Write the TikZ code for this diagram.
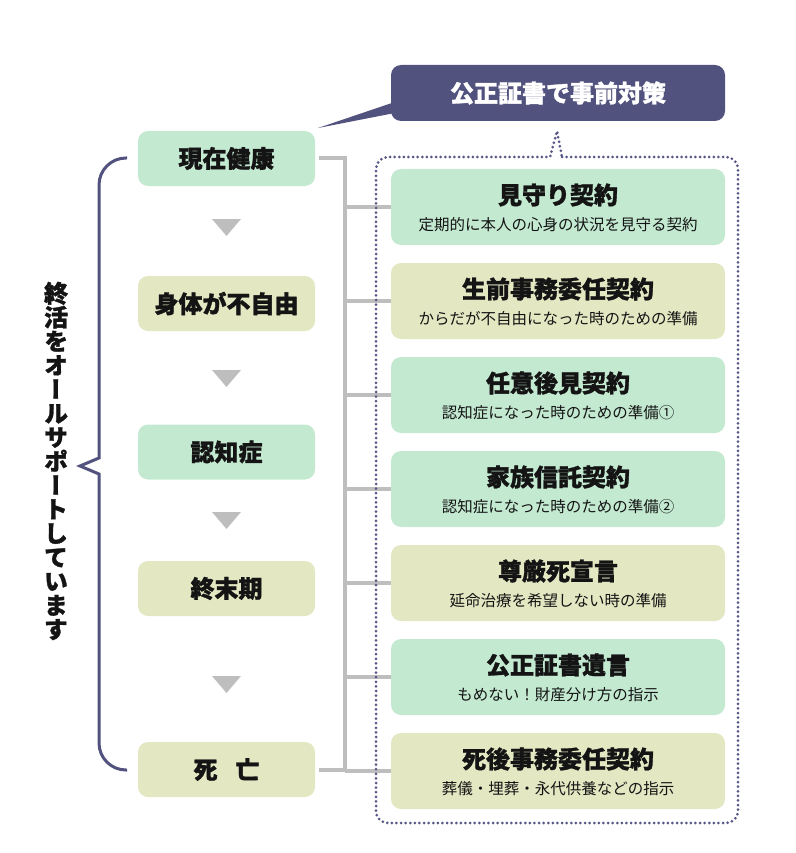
\documentclass[tikz,border=0pt]{standalone}
\usepackage{fontspec}
\setmainfont{Noto Sans CJK JP}[BoldFeatures={FakeBold=1.2}]
\newfontfamily\vertjp{Noto Sans CJK JP}[RawFeature=+vert, BoldFeatures={FakeBold=1.2}]
\usetikzlibrary{calc}
\definecolor{mintbg}{HTML}{C3E9D1}
\definecolor{olivebg}{HTML}{E3E7C2}
\definecolor{navy}{HTML}{52527E}
\definecolor{linkgray}{HTML}{BEBEBE}
\definecolor{dotnavy}{HTML}{585888}
\definecolor{inkdark}{HTML}{141414}
\setlength{\lineskiplimit}{-20pt}
\tikzset{
  stagebox/.style={rounded corners=10pt, minimum width=177pt, minimum height=55pt, inner sep=0pt,
    text=inkdark, font=\fontsize{24}{24}\selectfont\bfseries},
  planbox/.style={rounded corners=10pt, minimum width=334pt, minimum height=76pt, inner sep=0pt},
  plantitle/.style={inner sep=0pt, text=inkdark, font=\fontsize{24}{24}\selectfont\bfseries},
  plannote/.style={inner sep=0pt, text=inkdark, font=\fontsize{15.5}{15.5}\selectfont},
  link/.style={linkgray, line width=4pt},
  downmark/.style={fill=linkgray},
}

\begin{document}
\begin{tikzpicture}[x=1pt,y=-1pt]
\useasboundingbox (0,0) rectangle (795,853);

% stages on the left
\node [stagebox, fill=mintbg]  (now)      at (226.5,158.5) {現在健康};
\node [stagebox, fill=olivebg] (frail)    at (226.5,303.5) {身体が不自由};
\node [stagebox, fill=mintbg]  (dementia) at (226.5,452)   {認知症};
\node [stagebox, fill=olivebg] (terminal) at (226.5,588.5) {終末期};
\node [stagebox, fill=olivebg] (death)    at (226.5,769.5) {死\hspace{18pt}亡};

\fill [downmark] (212,219) -- (241,219) -- (226.5,236) -- cycle;
\fill [downmark] (212,370) -- (241,370) -- (226.5,387) -- cycle;
\fill [downmark] (212,512) -- (241,512) -- (226.5,529) -- cycle;
\fill [downmark] (212,676) -- (241,676) -- (226.5,693) -- cycle;

% bracket and slogan
\draw [navy, line width=3pt] (127,158) [rounded corners=27pt] -- (99,158) [sharp corners]
  -- (99,458) -- (80,466) -- (99,474) [rounded corners=27pt] -- (99,770) [sharp corners] -- (127,770);
\node [inner sep=0pt, align=center, text=inkdark,
  font=\vertjp\bfseries\fontsize{24}{24}\selectfont] (slogan) at (56,461)
  {終\\活\\を\\オ\\ー\\ル\\サ\\ポ\\ー\\ト\\し\\て\\い\\ま\\す};

% plans on the right
\node [planbox, fill=mintbg]  (watch)    at (558,207) {};
\node [planbox, fill=olivebg] (affairs)  at (558,301) {};
\node [planbox, fill=mintbg]  (guardian) at (558,395) {};
\node [planbox, fill=mintbg]  (trust)    at (558,489) {};
\node [planbox, fill=olivebg] (dignity)  at (558,583) {};
\node [planbox, fill=mintbg]  (will)     at (558,677) {};
\node [planbox, fill=olivebg] (after)    at (558,771) {};

\node [plantitle] (watch t) at ([yshift=12pt]watch.center) {見守り契約};
\node [plannote]  (watch n) at ([yshift=-18pt]watch.center) {定期的に本人の心身の状況を見守る契約};
\node [plantitle] (affairs t) at ([yshift=12pt]affairs.center) {生前事務委任契約};
\node [plannote]  (affairs n) at ([yshift=-18pt]affairs.center) {からだが不自由になった時のための準備};
\node [plantitle] (guardian t) at ([yshift=12pt]guardian.center) {任意後見契約};
\node [plannote]  (guardian n) at ([yshift=-18pt]guardian.center) {認知症になった時のための準備①};
\node [plantitle] (trust t) at ([yshift=12pt]trust.center) {家族信託契約};
\node [plannote]  (trust n) at ([yshift=-18pt]trust.center) {認知症になった時のための準備②};
\node [plantitle] (dignity t) at ([yshift=12pt]dignity.center) {尊厳死宣言};
\node [plannote]  (dignity n) at ([yshift=-18pt]dignity.center) {延命治療を希望しない時の準備};
\node [plantitle] (will t) at ([yshift=12pt]will.center) {公正証書遺言};
\node [plannote]  (will n) at ([yshift=-18pt]will.center) {もめない！財産分け方の指示};
\node [plantitle] (after t) at ([yshift=12pt]after.center) {死後事務委任契約};
\node [plannote]  (after n) at ([yshift=-18pt]after.center) {葬儀・埋葬・永代供養などの指示};

% connectors
\coordinate (trunk) at (345,0);
\draw [link] ([xshift=4pt]now.east) -| (trunk |- death.east) -- ([xshift=4pt]death.east);
\draw [link] (trunk |- watch.west) -- (watch.west);
\draw [link] (trunk |- affairs.west) -- (affairs.west);
\draw [link] (trunk |- guardian.west) -- (guardian.west);
\draw [link] (trunk |- trust.west) -- (trust.west);
\draw [link] (trunk |- dignity.west) -- (dignity.west);
\draw [link] (trunk |- will.west) -- (will.west);
\draw [link] (trunk |- after.west) -- (after.west);

% dotted frame with its notch
\draw [dotnavy, line width=3pt, line cap=round, dash pattern=on 0pt off 4.6pt]
  (562,157) [rounded corners=12pt] -- (738,157) -- (738,823) -- (376,823) -- (376,157)
  [sharp corners] -- (550,157) -- (557,131) -- cycle;

% callout
\node [fill=navy, rounded corners=10pt, minimum width=334pt, minimum height=56pt, inner sep=0pt,
  text=white, font=\fontsize{24}{24}\selectfont\bfseries] (policy) at (558,93) {公正証書で事前対策};
\fill [navy] ([xshift=4pt,yshift=-9pt]policy.west) -- (318,128) -- ([xshift=4pt,yshift=-20pt]policy.west) -- cycle;

\end{tikzpicture}
\end{document}
